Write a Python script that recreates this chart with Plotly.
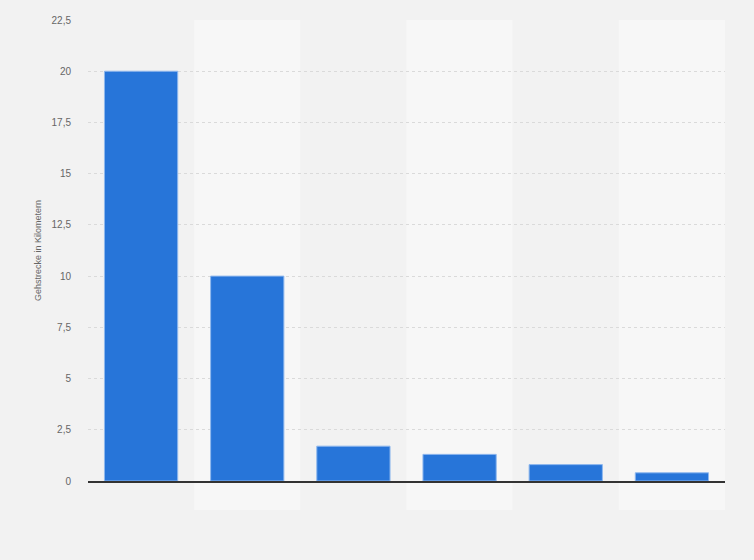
import plotly.graph_objects as go

categories = ["1", "2", "3", "4", "5", "6"]
values = [20, 10, 1.7, 1.3, 0.8, 0.4]
tick_vals = [0, 2.5, 5, 7.5, 10, 12.5, 15, 17.5, 20, 22.5]
tick_text = ["0", "2,5", "5", "7,5", "10", "12,5", "15", "17,5", "20", "22,5"]

fig = go.Figure(go.Bar(
    x=categories,
    y=values,
    width=0.69,
    marker=dict(color="#2775d9", line=dict(color="#8fb8ee", width=1)),
))

# alternating column bands
shapes = []
for i in range(len(categories)):
    shapes.append(dict(
        type="rect", xref="x", yref="paper",
        x0=i - 0.5, x1=i + 0.5, y0=-0.063, y1=1,
        fillcolor="#f2f2f2" if i % 2 == 0 else "#f7f7f7",
        line=dict(width=0), layer="below",
    ))

fig.update_layout(
    shapes=shapes,
    paper_bgcolor="#f2f2f2",
    plot_bgcolor="rgba(0,0,0,0)",
    margin=dict(l=88, r=29, t=20, b=79),
    width=754, height=560,
    showlegend=False,
    font=dict(family="Arial, Liberation Sans, sans-serif", color="#666"),
    xaxis=dict(
        showticklabels=False, showgrid=False, ticks="",
        showline=True, linecolor="#333", linewidth=1.5,
        range=[-0.5, 5.5],
    ),
    yaxis=dict(
        range=[0, 22.5],
        tickvals=tick_vals, ticktext=tick_text,
        tickfont=dict(size=10, color="#666"),
        showgrid=True, gridcolor="#dadada", griddash="dot", gridwidth=1,
        zeroline=False, ticks="", ticklabelstandoff=16,
        title=dict(text="Gehstrecke in Kilometern", font=dict(size=9, color="#666"), standoff=8),
    ),
)

fig.write_html("out.html", config={"displayModeBar": False},
               post_script="document.body.style.margin='0';")
